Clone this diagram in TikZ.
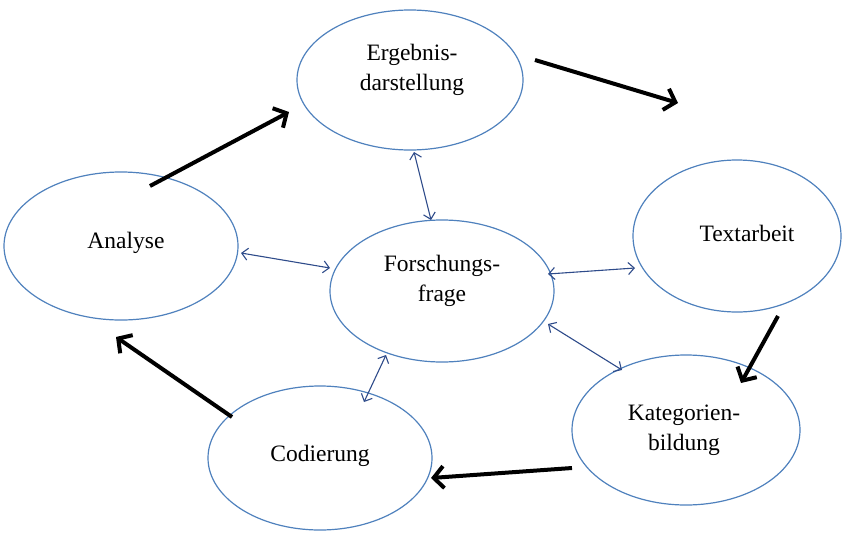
\documentclass[tikz,border=0pt]{standalone}
\usepackage{fontspec}
\setmainfont{Liberation Serif}
\usetikzlibrary{shapes.geometric,arrows.meta}
\definecolor{ellblue}{HTML}{4F81BD}
\definecolor{arrblue}{HTML}{2E4B8A}
\tikzset{
  ell/.style={ellipse, draw=ellblue, line width=1.2pt, fill=white, inner sep=0pt},
  lbl/.style={font=\fontsize{23.5}{30}\selectfont, align=center, text=black, inner sep=0pt},
  bigarrow/.style={line width=4pt, black, -{Straight Barb[length=10pt,width=22pt,line width=4pt]}},
  smallarrow/.style={line width=1.1pt, arrblue, {Straight Barb[length=6pt,width=12pt,line width=1.1pt]}-{Straight Barb[length=6pt,width=12pt,line width=1.1pt]}}
}
\begin{document}
\begin{tikzpicture}[x=1pt,y=-1pt]
\useasboundingbox (0,0) rectangle (843,536);
% ellipses
\node[ell, minimum width=226pt, minimum height=140pt] (erg) at (410,80) {};
\node[ell, minimum width=234pt, minimum height=148pt] (ana) at (121,246) {};
\node[ell, minimum width=224pt, minimum height=142pt] (fra) at (442,291) {};
\node[ell, minimum width=208pt, minimum height=152pt] (tex) at (737,236) {};
\node[ell, minimum width=228pt, minimum height=150pt] (kat) at (686,430) {};
\node[ell, minimum width=224pt, minimum height=144pt] (cod) at (320,458) {};
% labels
\node[lbl] (ergt) at (412,70) {Ergebnis-\\darstellung};
\node[lbl] (anat) at (126,243) {Analyse};
\node[lbl] (frat) at (442,281) {Forschungs-\\frage};
\node[lbl] (text) at (747,233) {Textarbeit};
\node[lbl] (katt) at (684,430) {Kategorien-\\bildung};
\node[lbl] (codt) at (320,456) {Codierung};
% arrow end points
\coordinate (ergA) at (150,186);
\coordinate (ergB) at (289,112);
\coordinate (outA) at (535,60);
\coordinate (outB) at (678,103);
\coordinate (texA) at (778,316);
\coordinate (texB) at (741,383);
\coordinate (katA) at (572,468);
\coordinate (katB) at (431,478);
\coordinate (codA) at (232,417);
\coordinate (codB) at (116,337);
\draw[bigarrow] (ergA) -- (ergB);
\draw[bigarrow] (outA) -- (outB);
\draw[bigarrow] (texA) -- (texB);
\draw[bigarrow] (katA) -- (katB);
\draw[bigarrow] (codA) -- (codB);
% blue double arrows
\coordinate (b1a) at (414,152);
\coordinate (b1b) at (431,220);
\coordinate (b2a) at (241,253);
\coordinate (b2b) at (330,268);
\coordinate (b3a) at (548,274);
\coordinate (b3b) at (635,268);
\coordinate (b4a) at (548,324);
\coordinate (b4b) at (622,370);
\coordinate (b5a) at (386,355);
\coordinate (b5b) at (364,402);
\draw[smallarrow] (b1a) -- (b1b);
\draw[smallarrow] (b2a) -- (b2b);
\draw[smallarrow] (b3a) -- (b3b);
\draw[smallarrow] (b4a) -- (b4b);
\draw[smallarrow] (b5a) -- (b5b);
\end{tikzpicture}
\end{document}
